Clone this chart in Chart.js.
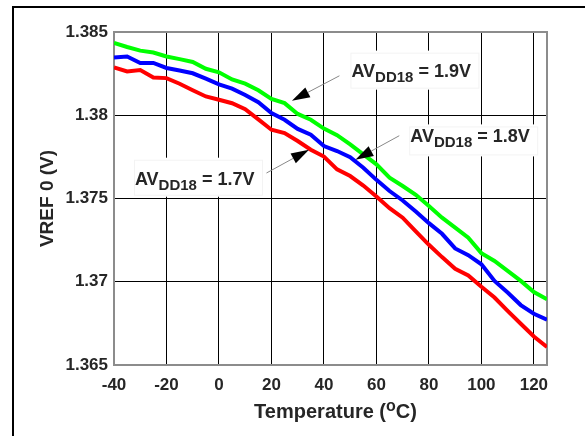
<!DOCTYPE html>
<html>
<head>
<meta charset="utf-8">
<script src="https://cdn.jsdelivr.net/npm/chart.js@4.4.1/dist/chart.umd.min.js"></script>
<style>
    html, body { margin: 0; padding: 0; background: #fff; }
    #chart { display: block; }
</style>
</head>
<body>
<canvas id="chart" width="585" height="436"></canvas>
<script>
// ──────────────────────────────────────────────
// Data
// ──────────────────────────────────────────────
const temps = [-40,-35,-30,-25,-20,-15,-10,-5,0,5,10,15,20,25,30,35,40,45,50,55,60,65,70,75,80,85,90,95,100,105,110,115,120,125];

const vref19 = [1.38434,1.3841,1.38388,1.38377,1.38353,1.38337,1.3832,1.38279,1.38258,1.38215,
                1.3819,1.3815,1.38098,1.38073,1.38008,1.37973,1.3792,1.3788,1.37825,1.37765,
                1.37705,1.37625,1.37575,1.37522,1.37455,1.37385,1.37325,1.37265,1.37172,1.37125,
                1.37065,1.37005,1.36938,1.36895];
const vref18 = [1.38347,1.38353,1.38314,1.38314,1.38284,1.38269,1.38252,1.3822,1.38185,1.3816,
                1.38122,1.38078,1.38013,1.37973,1.37918,1.37883,1.37815,1.37785,1.37748,1.37685,
                1.37612,1.37545,1.37488,1.37422,1.37352,1.37288,1.372,1.3716,1.37105,1.37005,
                1.36935,1.3686,1.36808,1.36772];
const vref17 = [1.38287,1.38263,1.38271,1.38227,1.38223,1.38189,1.3815,1.38113,1.38093,1.38072,
                1.38036,1.37975,1.37913,1.37893,1.37845,1.37793,1.37752,1.37675,1.37635,1.37578,
                1.37512,1.37442,1.37385,1.37302,1.37222,1.37148,1.37078,1.37038,1.3697,1.36905,
                1.36825,1.36748,1.36671,1.36608];

const xTickValues = [-40,-20,0,20,40,60,80,100,120];
const xTickLabels = ['-40','-20','0','20','40','60','80','100','120'];
const yTickValues = [1.365,1.37,1.375,1.38,1.385];
const yTickLabels = ['1.365','1.37','1.375','1.38','1.385'];

const seriesNames  = ['1.9V','1.8V','1.7V'];
const seriesColors = ['#00ff00','#0000ff','#ff0000'];

// label boxes: top-left corner in data units, size in px; arrows tail -> tip in data units
const notes = [
    { text: '1.9V', boxT: 50.1,  boxV: 1.38376, w: 128, h: 35, base: 24, tail: [45.9, 1.38237], tip: [27.8, 1.38087] },
    { text: '1.8V', boxT: 72.5,  boxV: 1.37933, w: 128, h: 28, base: 16, tail: [68.7, 1.37877], tip: [52.0, 1.37733] },
    { text: '1.7V', boxT: -32.4, boxV: 1.37733, w: 128, h: 35, base: 25, tail: [18.1, 1.37653], tip: [34.3, 1.37793] }
];

const FONT = '"Liberation Sans", Arial, sans-serif';
const TEXT = '#262626';

// ──────────────────────────────────────────────
// Plugin: frame, label boxes, arrows, axis titles
// ──────────────────────────────────────────────
function drawArrow(ctx, x1, y1, x2, y2) {
    const ang = Math.atan2(y2 - y1, x2 - x1);
    const len = 18, half = 5.5;
    const bx = x2 - Math.cos(ang) * len, by = y2 - Math.sin(ang) * len;
    ctx.strokeStyle = '#888';
    ctx.lineWidth = 1;
    ctx.beginPath();
    ctx.moveTo(x1, y1);
    ctx.lineTo(bx, by);
    ctx.stroke();
    ctx.fillStyle = '#000';
    ctx.beginPath();
    ctx.moveTo(x2, y2);
    ctx.lineTo(bx + Math.sin(ang) * half, by - Math.cos(ang) * half);
    ctx.lineTo(bx - Math.sin(ang) * half, by + Math.cos(ang) * half);
    ctx.closePath();
    ctx.fill();
}

const decor = {
    id: 'decor',
    beforeDraw(chart) {
        const ctx = chart.ctx;
        ctx.save();
        ctx.fillStyle = '#000';
        ctx.fillRect(12, 6, 2, 430);
        ctx.fillRect(12, 6, 573, 2);
        ctx.restore();
    },
    beforeDatasetsDraw(chart) {
        const { ctx, chartArea: a, scales: { x, y } } = chart;
        ctx.save();
        // label boxes cover the grid
        notes.forEach(n => {
            const bx = x.getPixelForValue(n.boxT), by = y.getPixelForValue(n.boxV);
            ctx.fillStyle = '#fff';
            ctx.fillRect(bx - 2, by - 2, n.w + 4, n.h + 4);
            ctx.strokeStyle = '#f3f3f3';
            ctx.lineWidth = 1;
            ctx.strokeRect(bx + 0.5, by + 0.5, n.w, n.h);

            ctx.fillStyle = TEXT;
            ctx.textBaseline = 'alphabetic';
            ctx.textAlign = 'left';
            let tx = bx + 1;
            const ty = by + n.base;
            ctx.font = 'bold 18px ' + FONT;
            ctx.fillText('AV', tx, ty);
            tx += ctx.measureText('AV').width;
            ctx.font = 'bold 15px ' + FONT;
            ctx.fillText('DD18', tx, ty + 5);
            tx += ctx.measureText('DD18').width;
            ctx.font = 'bold 18px ' + FONT;
            ctx.fillText(' = ' + n.text, tx, ty);
        });
        // plot frame
        ctx.strokeStyle = '#8c8c8c';
        ctx.lineWidth = 2;
        ctx.strokeRect(a.left, a.top, a.right - a.left, a.bottom - a.top);
        ctx.restore();
    },
    afterDatasetsDraw(chart) {
        const { ctx, scales: { x, y } } = chart;
        ctx.save();
        notes.forEach(n => {
            drawArrow(ctx,
                x.getPixelForValue(n.tail[0]), y.getPixelForValue(n.tail[1]),
                x.getPixelForValue(n.tip[0]),  y.getPixelForValue(n.tip[1]));
        });
        ctx.restore();
    },
    afterDraw(chart) {
        const { ctx, chartArea: a } = chart;
        ctx.save();
        ctx.fillStyle = TEXT;
        // x title with superscript o
        const p1 = 'Temperature (', p2 = 'o', p3 = 'C)';
        ctx.font = 'bold 20px ' + FONT;
        const w1 = ctx.measureText(p1).width, w3 = ctx.measureText(p3).width;
        ctx.font = 'bold 16px ' + FONT;
        const w2 = ctx.measureText(p2).width;
        let tx = (a.left + a.right) / 2 + 5 - (w1 + w2 + w3) / 2;
        const ty = 418;
        ctx.textAlign = 'left';
        ctx.textBaseline = 'alphabetic';
        ctx.font = 'bold 20px ' + FONT;
        ctx.fillText(p1, tx, ty);
        ctx.font = 'bold 16px ' + FONT;
        ctx.fillText(p2, tx + w1, ty - 7);
        ctx.font = 'bold 20px ' + FONT;
        ctx.fillText(p3, tx + w1 + w2, ty);
        // y title
        ctx.translate(53, (a.top + a.bottom) / 2);
        ctx.rotate(-Math.PI / 2);
        ctx.textAlign = 'center';
        ctx.font = 'bold 19px ' + FONT;
        ctx.fillText('VREF 0 (V)', 0, 0);
        ctx.restore();
    }
};

// ──────────────────────────────────────────────
// Chart
// ──────────────────────────────────────────────
const seriesValues = [vref19, vref18, vref17];

new Chart(document.getElementById('chart'), {
    type: 'line',
    data: {
        datasets: seriesValues.map((vals, i) => ({
            label: seriesNames[i],
            data: temps.map((t, k) => ({ x: t, y: vals[k] })),
            borderColor: seriesColors[i],
            borderWidth: 4,
            pointRadius: 0,
            tension: 0,
            fill: false
        }))
    },
    options: {
        responsive: false,
        animation: false,
        devicePixelRatio: 1,
        layout: { padding: { left: 0, top: 32, right: 38, bottom: 0 } },
        plugins: { legend: { display: false }, tooltip: { enabled: false } },
        scales: {
            x: {
                type: 'linear', min: -40, max: 125,
                afterBuildTicks: s => { s.ticks = xTickValues.map(v => ({ value: v })); },
                afterFit: s => { s.height = 71; },
                ticks: {
                    callback: (v, i) => xTickLabels[i],
                    font: { family: FONT, size: 17, weight: 'bold' },
                    color: TEXT, padding: 10, maxRotation: 0, autoSkip: false
                },
                grid: { color: '#000', lineWidth: 1, drawTicks: false },
                border: { display: false }
            },
            y: {
                type: 'linear', min: 1.365, max: 1.385,
                afterBuildTicks: s => { s.ticks = yTickValues.map(v => ({ value: v })); },
                afterFit: s => { s.width = 114; },
                ticks: {
                    callback: (v, i) => yTickLabels[i],
                    font: { family: FONT, size: 17, weight: 'bold' },
                    color: TEXT, padding: 6, autoSkip: false
                },
                grid: { color: '#000', lineWidth: 1, drawTicks: false },
                border: { display: false }
            }
        }
    },
    plugins: [decor]
});
</script>
</body>
</html>
